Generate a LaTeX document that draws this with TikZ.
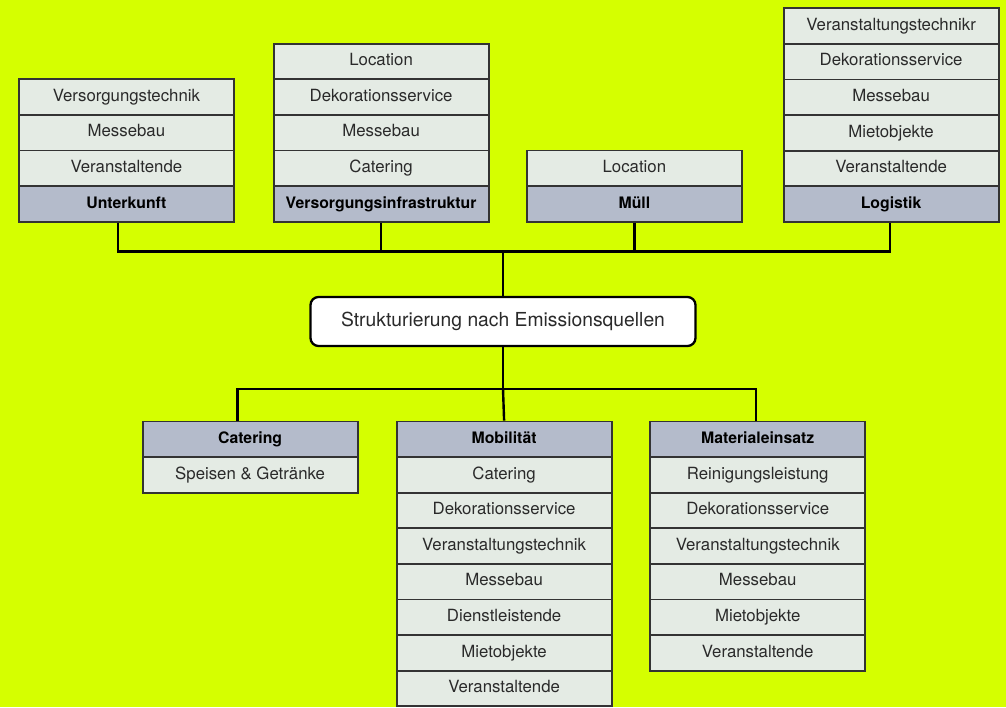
\documentclass[tikz,border=0pt]{standalone}
\usepackage{fontspec}
\setmainfont{TeX Gyre Heros}
\definecolor{bg}{HTML}{D5FF00}
\definecolor{cellcol}{HTML}{E4EBE4}
\definecolor{headcol}{HTML}{B4BBCB}
\definecolor{bordercol}{HTML}{333333}
\definecolor{textcol}{HTML}{2A2A2A}
\begin{document}
\begin{tikzpicture}[x=1pt,y=-1pt,
  cell/.style={draw=bordercol, line width=1.8pt, fill=cellcol, minimum width=215pt, minimum height=35.6pt, inner sep=0pt, text height=12pt, text depth=3.5pt, anchor=north west, text=textcol, font=\fontsize{16.8}{18}\selectfont},
  head/.style={cell, fill=headcol, text=black, font=\fontsize{15.8}{18}\selectfont\bfseries},
  mainbox/.style={draw=black, line width=2.3pt, fill=white, rounded corners=8pt, minimum width=385pt, minimum height=49pt, inner sep=0pt, text height=13.5pt, text depth=4pt, text=textcol, font=\fontsize{19.3}{22}\selectfont},
  conn/.style={draw=black, line width=2.4pt, line join=miter}]
\fill[bg] (0,0) rectangle (1006,707);
\useasboundingbox (0,0) rectangle (1006,707);
% Upper columns
\foreach \t [count=\i from 0] in {Versorgungstechnik,Messebau,Veranstaltende}
  \node[cell] (u\i) at (18,{78.3+\i*35.6}) {\t};
\node[head] (uH) at (18,{78.3+3*35.6}) {Unterkunft};
\foreach \t [count=\i from 0] in {Location,Dekorationsservice,Messebau,Catering}
  \node[cell] (v\i) at (272.7,{42.7+\i*35.6}) {\t};
\node[head] (vH) at (272.7,{42.7+4*35.6}) {Versorgungsinfrastruktur};
\node[cell] (m0) at (526,149.5) {Location};
\node[head] (mH) at (526,{149.5+35.6}) {Müll};
\foreach \t [count=\i from 0] in {Veranstaltungstechnikr,Dekorationsservice,Messebau,Mietobjekte,Veranstaltende}
  \node[cell] (l\i) at (782.7,{7.3+\i*35.6}) {\t};
\node[head] (lH) at (782.7,{7.3+5*35.6}) {Logistik};
% Center
\node[mainbox] (center) at (503,321.5) {Strukturierung nach Emissionsquellen};
% Lower columns
\node[head] (cH) at (141.7,420.6) {Catering};
\node[cell] (c0) at (141.7,{420.6+35.6}) {Speisen \& Getränke};
\node[head] (bH) at (395.7,420.6) {Mobilität};
\foreach \t [count=\i from 1] in {Catering,Dekorationsservice,Veranstaltungstechnik,Messebau,Dienstleistende,Mietobjekte,Veranstaltende}
  \node[cell] (b\i) at (395.7,{420.6+\i*35.6}) {\t};
\node[head] (aH) at (649.3,420.6) {Materialeinsatz};
\foreach \t [count=\i from 1] in {Reinigungsleistung,Dekorationsservice,Veranstaltungstechnik,Messebau,Mietobjekte,Veranstaltende}
  \node[cell] (a\i) at (649.3,{420.6+\i*35.6}) {\t};
% Connectors
\coordinate (bus) at (503,251.5);
\coordinate (lbus) at (503,389);
\draw[conn] ([xshift=-8.5pt]uH.south) |- (bus) -| ([xshift=-1.2pt]lH.south);
\draw[conn] (vH.south) -- (vH.south |- bus);
\draw[conn] (mH.south) -- (mH.south |- bus);
\draw[conn] (bus) -- (center.north);
\draw[conn] (center.south) -- (lbus);
\draw[conn] ([xshift=-12.7pt]cH.north) |- (lbus) -| ([xshift=-1.5pt]aH.north);
\draw[conn] (lbus) -- (bH.north);
\end{tikzpicture}
\end{document}
